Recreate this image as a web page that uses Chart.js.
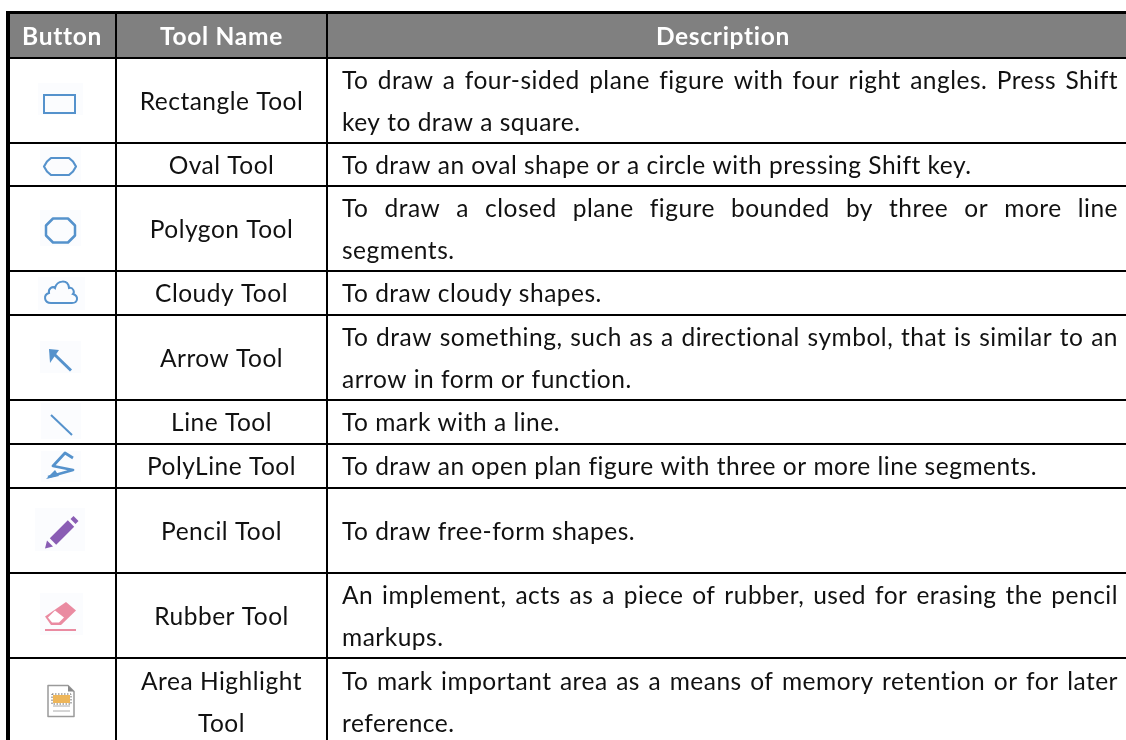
<!DOCTYPE html>
<html>
<head>
<meta charset="utf-8">
<title>Markup tools</title>
<script src="https://cdn.jsdelivr.net/npm/chart.js@4"></script>
<style>
  html, body { margin: 0; padding: 0; background: #fff; overflow: hidden; }
  canvas { display: block; }
</style>
</head>
<body>
<canvas id="toolChart" width="1126" height="740"></canvas>
<script>
const headers = ['Button', 'Tool Name', 'Description'];
const columnEdges = [8, 116, 327];
const rowEdges = [12.5, 58, 143, 186, 271, 315, 400, 444, 488, 573, 658, 745];

const toolNames = [
  ['Rectangle Tool'],
  ['Oval Tool'],
  ['Polygon Tool'],
  ['Cloudy Tool'],
  ['Arrow Tool'],
  ['Line Tool'],
  ['PolyLine Tool'],
  ['Pencil Tool'],
  ['Rubber Tool'],
  ['Area Highlight', 'Tool']
];

const descriptions = [
  ['To draw a four-sided plane figure with four right angles. Press Shift', 'key to draw a square.'],
  ['To draw an oval shape or a circle with pressing Shift key.'],
  ['To draw a closed plane figure bounded by three or more line', 'segments.'],
  ['To draw cloudy shapes.'],
  ['To draw something, such as a directional symbol, that is similar to an', 'arrow in form or function.'],
  ['To mark with a line.'],
  ['To draw an open plan figure with three or more line segments.'],
  ['To draw free-form shapes.'],
  ['An implement, acts as a piece of rubber, used for erasing the pencil', 'markups.'],
  ['To mark important area as a means of memory retention or for later', 'reference.']
];

const FONT = 'Lato, Carlito, sans-serif';
const BLUE = '#5592cc';
const PALE = '#fbfcfe';

// little drawings for the first column, local coords around the cell centre
function stroked(c, color, width, pts, close) {
  c.strokeStyle = color;
  c.lineWidth = width;
  c.lineJoin = 'round';
  c.beginPath();
  pts.forEach((p, i) => i ? c.lineTo(p[0], p[1]) : c.moveTo(p[0], p[1]));
  if (close) c.closePath();
  c.stroke();
}
function filled(c, color, pts) {
  c.fillStyle = color;
  c.beginPath();
  pts.forEach((p, i) => i ? c.lineTo(p[0], p[1]) : c.moveTo(p[0], p[1]));
  c.closePath();
  c.fill();
}
function box(c, l, t, w, h) {
  c.fillStyle = PALE;
  c.fillRect(l, t, w, h);
}

const icons = [
  c => {
    box(c, -22, -17.5, 45, 32);
    c.strokeStyle = BLUE; c.lineWidth = 2; c.strokeRect(-16, -5.5, 31, 18);
  },
  c => {
    box(c, -20, -17.5, 41, 35);
    stroked(c, BLUE, 2.2, [[-16, 2], [-13, -3], [-9, -6.5], [9, -6.5], [13, -3], [16, 2], [13, 7], [9, 10.5], [-9, 10.5], [-13, 7]], true);
  },
  c => {
    box(c, -20, -18.5, 41, 36);
    stroked(c, BLUE, 2.5, [[-14, -3], [-7, -10], [8, -10], [15, -3], [15, 7], [8, 14], [-7, 14], [-14, 7]], true);
  },
  c => {
    box(c, -22, -16, 47, 33);
    c.strokeStyle = BLUE; c.lineWidth = 2;
    c.beginPath();
    c.moveTo(-9, 10);
    c.bezierCurveTo(-16, 10, -17, 2, -11, 0);
    c.bezierCurveTo(-12, -5, -7, -7, -5, -5);
    c.bezierCurveTo(-3, -13, 8, -14, 9, -5);
    c.bezierCurveTo(13, -6, 15, -1, 13, 1);
    c.bezierCurveTo(19, 3, 18, 10, 12, 10);
    c.closePath();
    c.stroke();
  },
  c => {
    box(c, -20, -16.5, 41, 32);
    stroked(c, BLUE, 3, [[-6, -3.5], [11, 13]]);
    filled(c, BLUE, [[-11, -8.5], [-1, -7.5], [-10, 5.5]]);
  },
  c => {
    box(c, -19, -19, 40, 36);
    stroked(c, BLUE, 2, [[-9, -7], [12, 13]]);
  },
  c => {
    box(c, -19, -15, 40, 31);
    stroked(c, BLUE, 2.8, [[-12, 11], [13, 4], [-7, 0], [5, -13], [13, -8]]);
    filled(c, BLUE, [[-14, 13], [-5, 4], [-1, 10]]);
  },
  c => {
    box(c, -25, -22.5, 50, 43);
    stroked(c, '#8a5db4', 9, [[-7, 11], [11, -7]]);
    stroked(c, '#8a5db4', 7, [[13, -9], [16, -12]]);
    filled(c, '#8a5db4', [[-15, 18], [-13, 10], [-7, 16]]);
  },
  c => {
    box(c, -20, -22.5, 43, 42);
    filled(c, '#ea8ba1', [[6, -13.5], [16, -5], [1, 9.5], [-9, 9.5], [-15, 1]]);
    filled(c, '#ffffff', [[-12, 2], [-5, -5], [4, 2], [-1, 7], [-8, 7]]);
    stroked(c, '#ea8ba1', 2, [[-15, 14.5], [16, 14.5]]);
  },
  c => {
    stroked(c, '#9a9a9a', 1.5, [[-12, -16], [8, -16], [14, -10], [14, 15], [-12, 15]], true);
    filled(c, '#8a8a8a', [[8, -16], [14, -10], [8, -10]]);
    c.fillStyle = '#eeb65a'; c.fillRect(-7, -6.5, 17, 8);
    c.strokeStyle = '#666'; c.lineWidth = 1; c.setLineDash([1.5, 1.5]);
    c.strokeRect(-8, -7.5, 19, 10); c.setLineDash([]);
    stroked(c, '#aaaaaa', 1, [[-7, 4.5], [10, 4.5]]);
    stroked(c, '#aaaaaa', 1, [[-7, 9.5], [10, 9.5]]);
  }
];

function drawJustified(c, line, left, right, y) {
  const words = line.split(' ');
  const total = words.reduce((s, w) => s + c.measureText(w).width, 0);
  const gap = (right - left - total) / (words.length - 1);
  let x = left;
  words.forEach(w => {
    c.fillText(w, x, y);
    x += c.measureText(w).width + gap;
  });
}

const tablePlugin = {
  id: 'tablePlugin',
  afterDraw(chart) {
    const c = chart.ctx;
    const xs = chart.scales.x, ys = chart.scales.y;
    const nameX = xs.getPixelForValue((columnEdges[1] + columnEdges[2]) / 2);
    const descLeft = xs.getPixelForValue(342);
    const descRight = xs.getPixelForValue(1118);
    const lineGap = 42;
    const textShift = 1.5;

    c.save();
    c.textBaseline = 'middle';

    // header row
    c.fillStyle = '#ffffff';
    c.textAlign = 'center';
    c.font = 'bold 24.5px ' + FONT;
    c.letterSpacing = '0.7px';
    const headY = ys.getPixelForValue(37);
    c.fillText(headers[0], xs.getPixelForValue(62), headY);
    c.fillText(headers[1], nameX, headY);
    c.fillText(headers[2], xs.getPixelForValue(723), headY);

    // body rows
    c.font = '24.5px ' + FONT;
    c.letterSpacing = '0.5px';
    toolNames.forEach((name, i) => {
      const mid = ys.getPixelForValue((rowEdges[i + 1] + rowEdges[i + 2]) / 2);
      const desc = descriptions[i];

      c.save();
      c.translate(xs.getPixelForValue(60), mid);
      icons[i](c);
      c.restore();

      c.fillStyle = '#111111';
      c.textAlign = 'center';
      name.forEach((t, k) => c.fillText(t, nameX, mid + textShift + (k - (name.length - 1) / 2) * lineGap));
      c.textAlign = 'left';
      desc.forEach((t, k) => {
        const y = mid + textShift + (k - (desc.length - 1) / 2) * lineGap;
        if (k < desc.length - 1) drawJustified(c, t, descLeft, descRight, y);
        else c.fillText(t, descLeft, y);
      });
    });
    c.restore();
  }
};

new Chart(document.getElementById('toolChart'), {
  type: 'line',
  data: {
    datasets: [{
      label: 'Header',
      data: [{ x: 6, y: rowEdges[1] }, { x: 1126, y: rowEdges[1] }],
      borderWidth: 0,
      pointRadius: 0,
      backgroundColor: '#808080',
      fill: 'end'
    }]
  },
  plugins: [tablePlugin],
  options: {
    responsive: false,
    animation: false,
    layout: { padding: { left: 6, top: 11 } },
    plugins: { legend: { display: false }, tooltip: { enabled: false } },
    scales: {
      x: {
        type: 'linear',
        min: 6,
        max: 1126,
        afterBuildTicks: axis => { axis.ticks = columnEdges.map(value => ({ value })); },
        ticks: { display: false },
        border: { display: false },
        grid: {
          z: 1,
          color: '#000000',
          drawTicks: false,
          lineWidth: ctx => (ctx.index === 0 ? 4 : 2)
        }
      },
      y: {
        type: 'linear',
        reverse: true,
        min: 11,
        max: 740,
        afterBuildTicks: axis => { axis.ticks = rowEdges.slice(0, -1).map(value => ({ value })); },
        ticks: { display: false },
        border: { display: false },
        grid: {
          z: 1,
          color: '#000000',
          drawTicks: false,
          lineWidth: ctx => (ctx.index === 0 ? 3 : 2)
        }
      }
    }
  }
});
</script>
</body>
</html>
